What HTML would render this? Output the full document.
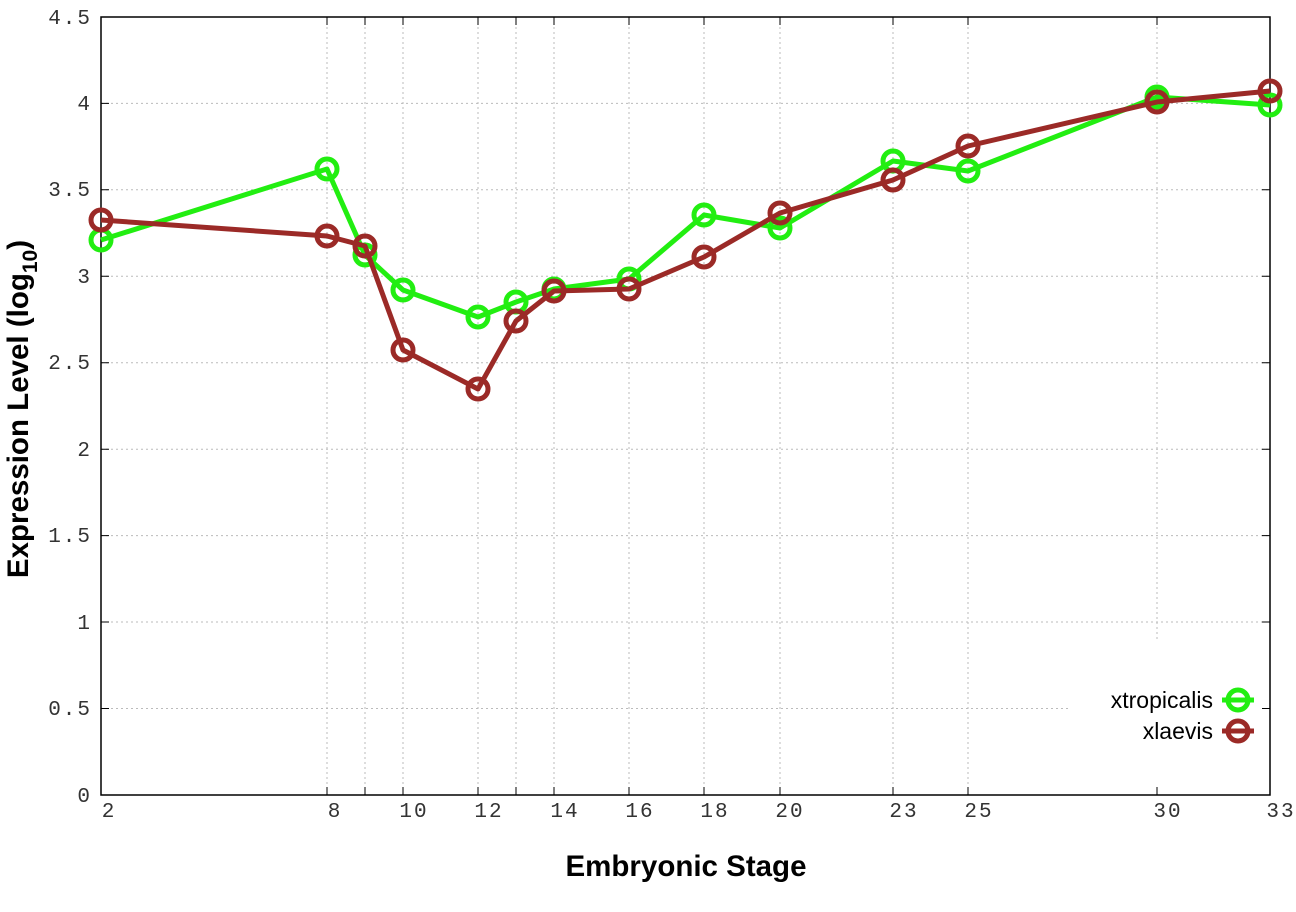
<!DOCTYPE html>
<html><head><meta charset="utf-8"><style>body{margin:0;background:#fff}</style></head><body>
<svg width="1296" height="907" xmlns="http://www.w3.org/2000/svg">
<rect width="1296" height="907" fill="#fff"/>
<g stroke="#bbb" stroke-width="1" stroke-dasharray="2,3">
<line x1="101" x2="1270" y1="708.5" y2="708.5"/>
<line x1="101" x2="1270" y1="622" y2="622"/>
<line x1="101" x2="1270" y1="535.6" y2="535.6"/>
<line x1="101" x2="1270" y1="449.2" y2="449.2"/>
<line x1="101" x2="1270" y1="362.7" y2="362.7"/>
<line x1="101" x2="1270" y1="276.3" y2="276.3"/>
<line x1="101" x2="1270" y1="189.8" y2="189.8"/>
<line x1="101" x2="1270" y1="103.4" y2="103.4"/>
<line y1="17" y2="795" x1="327" x2="327"/><line y1="17" y2="795" x1="365" x2="365"/>
<line y1="17" y2="795" x1="403" x2="403"/><line y1="17" y2="795" x1="478" x2="478"/>
<line y1="17" y2="795" x1="516" x2="516"/><line y1="17" y2="795" x1="554" x2="554"/>
<line y1="17" y2="795" x1="629" x2="629"/><line y1="17" y2="795" x1="704" x2="704"/>
<line y1="17" y2="795" x1="780" x2="780"/><line y1="17" y2="795" x1="893" x2="893"/>
<line y1="17" y2="795" x1="968" x2="968"/><line y1="17" y2="640" x1="1157" x2="1157"/>
</g>
<rect x="1070" y="675" width="195" height="80" fill="#fff"/>
<g stroke="#000" stroke-width="1">
<path d="M101,708.5h8M101,622h8M101,535.6h8M101,449.2h8M101,362.7h8M101,276.3h8M101,189.8h8M101,103.4h8"/>
<path d="M1270,708.5h-8M1270,622h-8M1270,535.6h-8M1270,449.2h-8M1270,362.7h-8M1270,276.3h-8M1270,189.8h-8M1270,103.4h-8"/>
<path d="M327,795v-8M365,795v-8M403,795v-8M478,795v-8M516,795v-8M554,795v-8M629,795v-8M704,795v-8M780,795v-8M893,795v-8M968,795v-8M1157,795v-8"/>
<path d="M327,17v8M365,17v8M403,17v8M478,17v8M516,17v8M554,17v8M629,17v8M704,17v8M780,17v8M893,17v8M968,17v8M1157,17v8"/>
</g>
<rect x="101" y="17" width="1169" height="778" fill="none" stroke="#000" stroke-width="1.5"/>
<g font-family="Liberation Mono, monospace" font-size="21" fill="#333" text-anchor="end" letter-spacing="2">
<text x="92" y="802">0</text><text x="92" y="715">0.5</text><text x="92" y="629">1</text>
<text x="92" y="542">1.5</text><text x="92" y="456">2</text><text x="92" y="369">2.5</text>
<text x="92" y="283">3</text><text x="92" y="196">3.5</text><text x="92" y="110">4</text><text x="92" y="24">4.5</text>
</g>
<g font-family="Liberation Mono, monospace" font-size="21" fill="#333" text-anchor="middle" letter-spacing="2">
<text x="109" y="817">2</text><text x="335" y="817">8</text><text x="414" y="817">10</text><text x="489" y="817">12</text>
<text x="565" y="817">14</text><text x="640" y="817">16</text><text x="715" y="817">18</text><text x="790" y="817">20</text>
<text x="904" y="817">23</text><text x="979" y="817">25</text><text x="1168" y="817">30</text><text x="1281" y="817">33</text>
</g>
<text x="686" y="876" font-family="Liberation Sans, sans-serif" font-weight="bold" font-size="29.5" text-anchor="middle">Embryonic Stage</text>
<text transform="translate(28,409) rotate(-90)" font-family="Liberation Sans, sans-serif" font-weight="bold" font-size="29.5" text-anchor="middle">Expression Level (log<tspan font-size="21" dy="9">10</tspan><tspan dy="-9">)</tspan></text>
<g fill="none" stroke-width="5" stroke-linejoin="round">
<polyline stroke="#22ee11" points="101,240 327,169 365,255 403,290 478,317 516,302 554,289 629,279 704,215 780,228 893,161 968,171 1157,97 1270,105"/>
<g stroke="#22ee11">
<circle cx="101" cy="240" r="10"/><circle cx="327" cy="169" r="10"/><circle cx="365" cy="255" r="10"/><circle cx="403" cy="290" r="10"/><circle cx="478" cy="317" r="10"/><circle cx="516" cy="302" r="10"/><circle cx="554" cy="289" r="10"/><circle cx="629" cy="279" r="10"/><circle cx="704" cy="215" r="10"/><circle cx="780" cy="228" r="10"/><circle cx="893" cy="161" r="10"/><circle cx="968" cy="171" r="10"/><circle cx="1157" cy="97" r="10"/><circle cx="1270" cy="105" r="10"/>
</g>
<polyline stroke="#9b2a27" points="101,220 327,236 365,246 403,350 478,389 516,321 554,291 629,289 704,257 780,213 893,180 968,146 1157,102 1270,91"/>
<g stroke="#9b2a27">
<circle cx="101" cy="220" r="10"/><circle cx="327" cy="236" r="10"/><circle cx="365" cy="246" r="10"/><circle cx="403" cy="350" r="10"/><circle cx="478" cy="389" r="10"/><circle cx="516" cy="321" r="10"/><circle cx="554" cy="291" r="10"/><circle cx="629" cy="289" r="10"/><circle cx="704" cy="257" r="10"/><circle cx="780" cy="213" r="10"/><circle cx="893" cy="180" r="10"/><circle cx="968" cy="146" r="10"/><circle cx="1157" cy="102" r="10"/><circle cx="1270" cy="91" r="10"/>
</g>
<line x1="1222" x2="1254" y1="700" y2="700" stroke="#22ee11"/><circle cx="1238" cy="700" r="10" stroke="#22ee11"/>
<line x1="1222" x2="1254" y1="731" y2="731" stroke="#9b2a27"/><circle cx="1238" cy="731" r="10" stroke="#9b2a27"/>
</g>
<g font-family="Liberation Sans, sans-serif" font-size="23" text-anchor="end" fill="#000">
<text x="1213" y="708">xtropicalis</text><text x="1213" y="739">xlaevis</text>
</g>
</svg>
</body></html>
